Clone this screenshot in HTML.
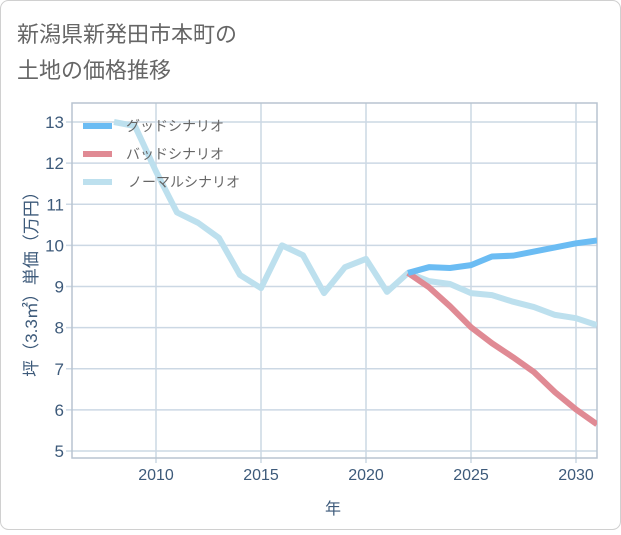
<!DOCTYPE html>
<html><head><meta charset="utf-8"><style>
html,body{margin:0;padding:0;background:#fff;}
body{width:621px;height:530px;overflow:hidden;font-family:"Liberation Sans","Noto Sans CJK JP",sans-serif;}
</style></head><body>
<svg id="chart" width="621" height="530" xmlns="http://www.w3.org/2000/svg" font-family="'Liberation Sans','Noto Sans CJK JP',sans-serif">
<rect x="0.5" y="0.5" width="620" height="529" rx="8" fill="#fff" stroke="#d0d0d0"/>
<text x="17" y="42" font-size="22" fill="#666">新潟県新発田市本町の</text>
<text x="17" y="78" font-size="22" fill="#666">土地の価格推移</text>
<g id="grid"></g>
<g id="axes"></g>
<g id="series"></g>
<g id="legend"></g>
<text transform="translate(37,280) rotate(-90)" text-anchor="middle" font-size="17" fill="#3d5a7a">坪（3.3㎡）単価（万円）</text>
<text x="333" y="514" text-anchor="middle" font-size="16" fill="#3d5a7a">年</text>
</svg>
<script>
const normalYears=[2008,2009,2010,2011,2012,2013,2014,2015,2016,2017,2018,2019,2020,2021,2022,2023,2024,2025,2026,2027,2028,2029,2030,2031];
const normalValues=[13.0,12.9,11.8,10.8,10.55,10.18,9.28,8.96,10.0,9.76,8.84,9.47,9.67,8.87,9.33,9.13,9.06,8.84,8.79,8.63,8.5,8.31,8.23,8.06];
const goodYears=[2022,2023,2024,2025,2026,2027,2028,2029,2030,2031];
const goodValues=[9.33,9.47,9.45,9.52,9.73,9.75,9.85,9.95,10.05,10.12];
const badYears=[2022,2023,2024,2025,2026,2027,2028,2029,2030,2031];
const badValues=[9.33,8.98,8.52,8.01,7.62,7.28,6.92,6.43,6.01,5.65];
const yTicks=[5,6,7,8,9,10,11,12,13];
const xTicks=[2010,2015,2020,2025,2030];
const legendLabels=["グッドシナリオ","バッドシナリオ","ノーマルシナリオ"];

const NS="http://www.w3.org/2000/svg";
const L=72,R=597,T=103,B=458;
const xs=y=>156+(y-2010)*21;
const ys=v=>122+(13-v)*41.125;
function mk(tag,attrs,parent){const e=document.createElementNS(NS,tag);for(const k in attrs)e.setAttribute(k,attrs[k]);parent.appendChild(e);return e;}
const grid=document.getElementById('grid'),axes=document.getElementById('axes'),series=document.getElementById('series'),legend=document.getElementById('legend');
yTicks.forEach(v=>{
  const l=mk('line',{x1:L-6,x2:R,y1:ys(v),y2:ys(v),stroke:'#ccd8e4','stroke-width':1.5},grid);
  
  
  const t=mk('text',{x:L-8,y:ys(v)+6,'text-anchor':'end','font-size':17,fill:'#3d5a7a'},axes);
  t.textContent=v;
  
  
});
xTicks.forEach(y=>{
  const l=mk('line',{x1:xs(y),x2:xs(y),y1:T,y2:B+5,stroke:'#ccd8e4','stroke-width':1.5},grid);
  
  
  const t=mk('text',{x:xs(y),y:B+22,'text-anchor':'middle','font-size':16,fill:'#3d5a7a'},axes);
  t.textContent=y;
  
  
});
const fr=mk('rect',{x:L,y:T,width:R-L,height:B-T,fill:'none',stroke:'#b8c4d0','stroke-width':1.5},axes);


const clip=mk('clipPath',{id:'pc'},document.getElementById('chart'));
mk('rect',{x:L,y:T,width:R-L,height:B-T},clip);
function line(xsArr,vals,color,name){
  const d=xsArr.map((y,i)=>(i?'L':'M')+xs(y)+','+ys(vals[i])).join('');
  const p=mk('path',{d:d,fill:'none',stroke:color,'stroke-width':6,'stroke-linejoin':'round','clip-path':'url(#pc)'},series);
  
  
}
line(normalYears,normalValues,'#bde0ee','normal-scenario-line');
line(badYears,badValues,'#e08a94','bad-scenario-line');
line(goodYears,goodValues,'#6bbcf3','good-scenario-line');
const lc=['#6bbcf3','#e08a94','#bde0ee'];
legendLabels.forEach((s,i)=>{
  const y=126+i*28;
  const l=mk('line',{x1:83,x2:112,y1:y,y2:y,stroke:lc[i],'stroke-width':6},legend);
  
  
  const t=mk('text',{x:i==2?128:126,y:y+5,'font-size':14,fill:'#666'},legend);
  t.textContent=s;
  
  
});
</script>
</body></html>
